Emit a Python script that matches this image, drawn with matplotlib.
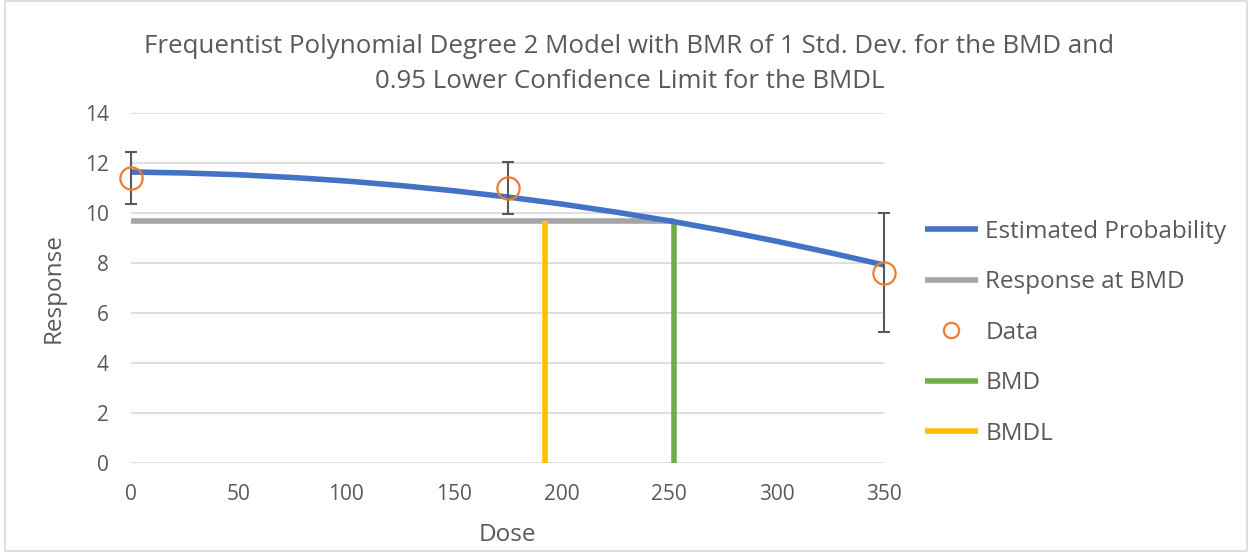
import matplotlib.pyplot as plt
import numpy as np

# Values
dose = [0, 175, 350]
response = [11.38, 11.0, 7.6]
err_low = [1.02, 1.04, 2.36]
err_high = [1.06, 1.04, 2.40]

curve_dose = [0, 25, 50, 75, 100, 125, 150, 175, 200, 225, 250, 275, 300, 325, 350]
curve_resp = [11.64, 11.60, 11.53, 11.42, 11.28, 11.10, 10.89, 10.64,
              10.36, 10.04, 9.69, 9.30, 8.87, 8.41, 7.92]

bmd = 252.4
bmdl = 192.5
bmd_response = 9.68

x_ticks = [0, 50, 100, 150, 200, 250, 300, 350]
y_ticks = [0, 2, 4, 6, 8, 10, 12, 14]

plt.rcParams['font.family'] = ['Open Sans', 'DejaVu Sans']
text_color = '#595959'

fig = plt.figure(figsize=(12.49, 5.52), dpi=100)
ax = fig.add_axes([0.1049, 0.1612, 0.6029, 0.6341])

# Light border around the whole chart area
fig.patches.append(plt.Rectangle((0.004, 0.002), 0.994, 0.996, transform=fig.transFigure,
                                 fill=False, edgecolor='#d9d9d9', linewidth=1.2))

ax.plot(curve_dose, curve_resp, color='#4472c4', linewidth=4, label='Estimated Probability',
        solid_capstyle='butt', zorder=3)
ax.plot([0, bmd], [bmd_response, bmd_response], color='#a5a5a5', linewidth=4,
        label='Response at BMD', solid_capstyle='butt', zorder=2)
ax.errorbar(dose, response, yerr=[err_low, err_high], fmt='none', ecolor='#595959',
            elinewidth=1.5, capsize=4, capthick=1.5, zorder=4)
ax.plot(dose, response, linestyle='none', marker='o', markersize=16, markerfacecolor='none',
        markeredgecolor='#ed7d31', markeredgewidth=1.6, label='Data', zorder=5)
ax.plot([bmd, bmd], [0, bmd_response], color='#70ad47', linewidth=4, label='BMD',
        solid_capstyle='butt', zorder=2)
ax.plot([bmdl, bmdl], [0, bmd_response], color='#ffc000', linewidth=4, label='BMDL',
        solid_capstyle='butt', zorder=2)

ax.set_xlim(0, 350)
ax.set_ylim(0, 14)
ax.set_xticks(x_ticks)
ax.set_yticks(y_ticks)
ax.grid(axis='y', color='#d9d9d9', linewidth=1.2)
ax.set_axisbelow(True)
for s in ax.spines.values():
    s.set_visible(False)
ax.tick_params(length=0, labelsize=15, labelcolor=text_color)
ax.tick_params(axis='x', pad=15)
ax.tick_params(axis='y', pad=16)
for child in ax.get_children():
    try:
        child.set_clip_on(False)
    except Exception:
        pass

ax.set_xlabel('Dose', fontsize=17.5, color=text_color, labelpad=13)
ax.set_ylabel('Response', fontsize=17.5, color=text_color, labelpad=14)
fig.text(0.504, 0.938,
         'Frequentist Polynomial Degree 2 Model with BMR of 1 Std. Dev. for the BMD and\n'
         '0.95 Lower Confidence Limit for the BMDL',
         ha='center', va='top', fontsize=18.6, color=text_color, linespacing=1.5)

leg = ax.legend(loc='upper left', bbox_to_anchor=(1.054, 0.695), frameon=False, fontsize=17.5,
                labelcolor=text_color, handlelength=2.2, handletextpad=0.3, labelspacing=1.09,
                borderpad=0, borderaxespad=0)
leg.legend_handles[2].set_markersize(11)

fig.savefig('out.png', dpi=100)
